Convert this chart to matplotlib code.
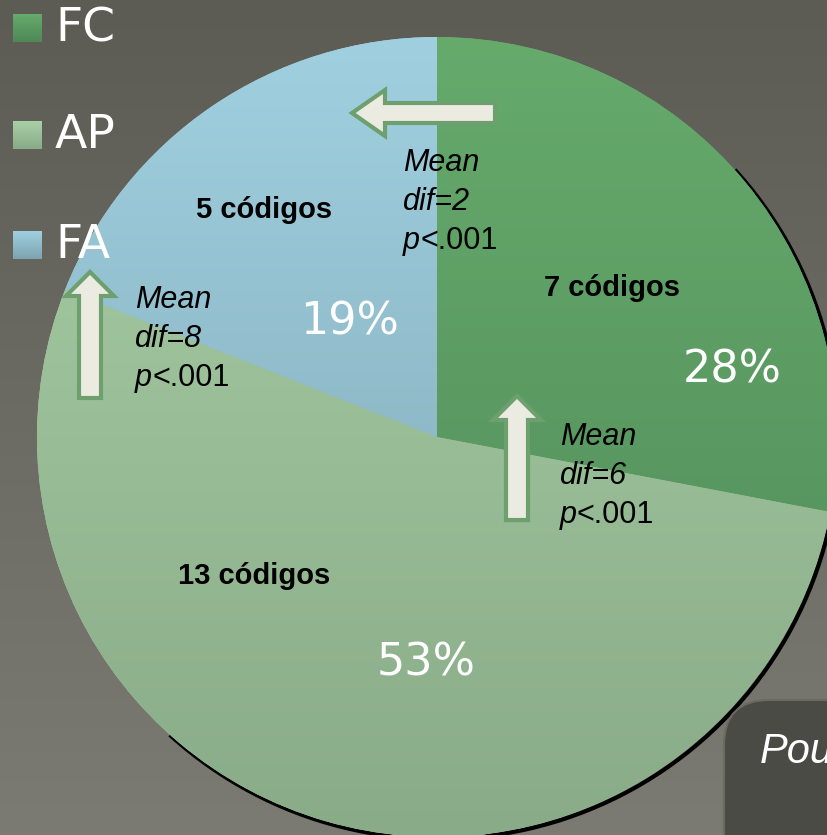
import numpy as np
import matplotlib.pyplot as plt
from matplotlib.patches import FancyBboxPatch, Polygon
from matplotlib.colors import LinearSegmentedColormap

# data
labels = ['FC', 'AP', 'FA']
shares = [28, 53, 19]
codes = ['7 códigos', '13 códigos', '5 códigos']
top_cols = ['#66aa6c', '#a9d0a6', '#a0d0e0']
bot_cols = ['#4f8957', '#89ab88', '#7da3b0']
mean_difs = [2, 6, 8]

W, H = 827, 835
fig = plt.figure(figsize=(W / 100, H / 100), dpi=100)
ax = fig.add_axes([0, 0, 1, 1])

# background gradient
bg = LinearSegmentedColormap.from_list('bg', ['#5c5c54', '#7b7b73'])
grad = np.linspace(0, 1, 256).reshape(-1, 1)
ax.imshow(grad, cmap=bg, extent=[0, W, H, 0], aspect='auto', zorder=0)

cx, cy, r = 437, 437, 400

# dark shadow rim on the lower right (y axis points down)
th = np.radians(np.linspace(-42, 132, 200))
ax.plot(cx + 2 + r * np.cos(th), cy + 2 + r * np.sin(th), color='black', lw=3, zorder=1)

# y is inverted, so start at -90 and go counterclockwise in data space
wedges, _ = ax.pie(shares, startangle=-90, counterclock=True, center=(cx, cy),
                   radius=r, frame=True, colors=top_cols,
                   wedgeprops=dict(linewidth=0))

# vertical gradient inside each slice
for w, c1, c2 in zip(wedges, top_cols, bot_cols):
    w.set_zorder(2)
    cm = LinearSegmentedColormap.from_list('g', [c1, c2])
    im = ax.imshow(grad, cmap=cm, extent=[cx - r, cx + r, cy + r, cy - r],
                   aspect='auto', zorder=3)
    im.set_clip_path(w)

ax.set_xlim(0, W)
ax.set_ylim(H, 0)
ax.set_aspect('equal')
ax.axis('off')

# code counts
code_pos = [(612, 288), (254, 576), (264, 210)]
for (x, y), s in zip(code_pos, codes):
    ax.text(x, y, s, fontsize=21, fontweight='bold', ha='center', va='center',
            family='Liberation Sans', zorder=6)

# percentages
pct_pos = [(732, 370), (426, 663), (350, 322)]
for (x, y), s in zip(pct_pos, shares):
    ax.text(x, y, f'{s}%', fontsize=32, color='white', ha='center', va='center',
            family='DejaVu Sans', zorder=6)

# legend
leg_y = [28, 135, 245]
for lab, c1, c2, y in zip(labels, top_cols, bot_cols, leg_y):
    cm = LinearSegmentedColormap.from_list('l', [c1, c2])
    ax.imshow(grad, cmap=cm, extent=[13, 42, y + 14, y - 14], aspect='auto', zorder=6)
    ax.text(55, y + 1, lab, fontsize=34, color='white', ha='left', va='center',
            family='DejaVu Sans', zorder=6)


def arrow(pts):
    ax.add_patch(Polygon(pts, closed=True, facecolor='#ecebe1', edgecolor='#6e9f6e',
                         lw=3, zorder=7))


# left-pointing arrow at top
arrow([(495, 103), (385, 103), (385, 90), (352, 113), (385, 136), (385, 123), (495, 123)])
# upward arrow in the middle
arrow([(506, 520), (506, 420), (493, 420), (517, 396), (541, 420), (528, 420), (528, 520)])
# upward arrow at left
arrow([(79, 398), (79, 296), (66, 296), (90, 272), (114, 296), (101, 296), (101, 398)])

# mean difference notes
notes = [(403, 163), (560, 437), (135, 300)]
for (x, y), d in zip(notes, mean_difs):
    ax.text(x, y, 'Mean', fontsize=22, style='italic', va='center', ha='left',
            family='Liberation Sans', zorder=8)
    ax.text(x, y + 39, f'dif={d}', fontsize=22, style='italic', va='center', ha='left',
            family='Liberation Sans', zorder=8)
    ax.text(x, y + 78, 'p', fontsize=22, style='italic', va='center', ha='left',
            family='Liberation Sans', zorder=8)
    ax.text(x + 17, y + 78, '<.001', fontsize=22, va='center', ha='left',
            family='Liberation Sans', zorder=8)

# cropped box at bottom right
box = FancyBboxPatch((724, 700), 200, 200, boxstyle='round,pad=0,rounding_size=45',
                     facecolor='#4b4b45', edgecolor='#6a6a62', lw=1.5, zorder=9)
ax.add_patch(box)
ax.text(760, 752, 'Pou', fontsize=30, color='white', style='italic', va='center',
        ha='left', family='Liberation Sans', zorder=10)

fig.savefig('out.png', dpi=100)
